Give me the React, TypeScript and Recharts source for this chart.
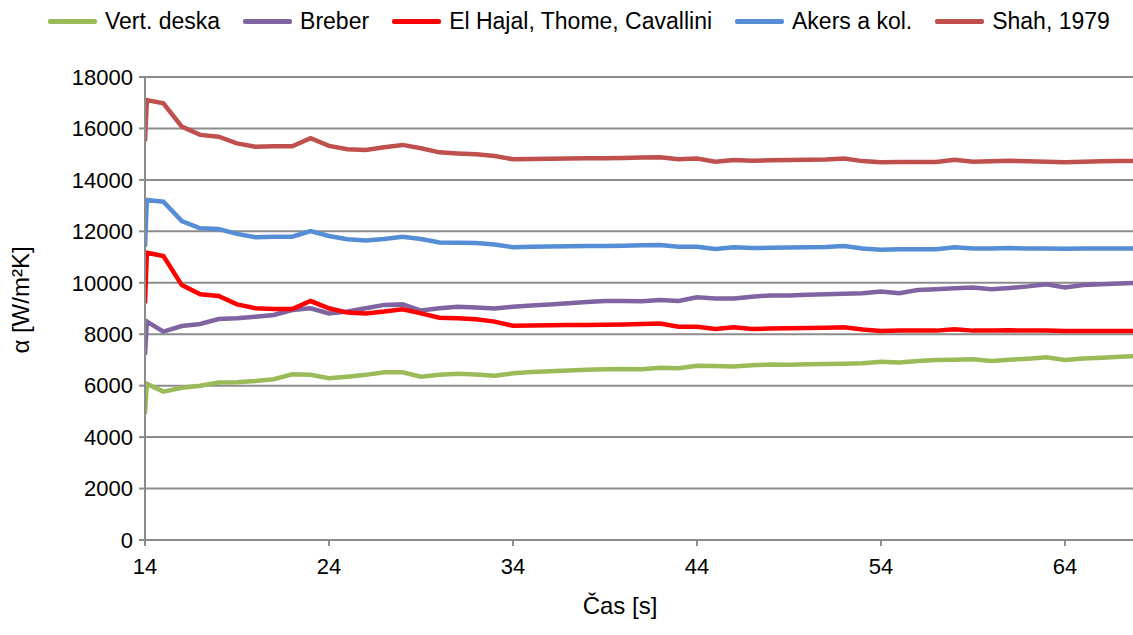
import { LineChart, Line, XAxis, YAxis, CartesianGrid, Label } from "recharts";

const times = [14, 14.1, 15, 16, 17, 18, 19, 20, 21, 22, 23, 24, 25, 26, 27, 28, 29, 30, 31, 32, 33, 34, 35, 36, 37, 38, 39, 40, 41, 42, 43, 44, 45, 46, 47, 48, 49, 50, 51, 52, 53, 54, 55, 56, 57, 58, 59, 60, 61, 62, 63, 64, 65, 66, 67, 68];

const vertDeska = [4900, 6070, 5770, 5920, 6000, 6120, 6130, 6180, 6250, 6440, 6420, 6290, 6350, 6420, 6520, 6520, 6350, 6420, 6460, 6430, 6390, 6480, 6530, 6560, 6590, 6620, 6640, 6650, 6640, 6700, 6680, 6770, 6760, 6750, 6790, 6820, 6810, 6830, 6840, 6850, 6870, 6930, 6900, 6960, 7000, 7010, 7030, 6960, 7010, 7050, 7100, 7000, 7060, 7090, 7120, 7150];
const breber = [7200, 8490, 8100, 8320, 8400, 8590, 8620, 8680, 8750, 8940, 9010, 8810, 8880, 9010, 9140, 9160, 8920, 9010, 9070, 9040, 9000, 9070, 9120, 9160, 9200, 9250, 9290, 9290, 9280, 9330, 9290, 9440, 9390, 9390, 9460, 9510, 9510, 9530, 9550, 9570, 9590, 9660, 9590, 9720, 9750, 9790, 9820, 9750, 9800, 9860, 9940, 9820, 9910, 9940, 9970, 10000];
const elHajal = [9200, 11170, 11040, 9910, 9550, 9490, 9160, 9010, 8980, 8980, 9290, 9010, 8840, 8810, 8880, 8970, 8810, 8640, 8620, 8580, 8490, 8330, 8340, 8350, 8360, 8360, 8370, 8380, 8400, 8420, 8290, 8290, 8200, 8270, 8200, 8220, 8230, 8240, 8250, 8270, 8180, 8130, 8140, 8140, 8140, 8190, 8140, 8140, 8150, 8140, 8140, 8130, 8130, 8130, 8130, 8130];
const akers = [11400, 13220, 13150, 12400, 12120, 12090, 11900, 11770, 11790, 11790, 12010, 11820, 11690, 11640, 11700, 11790, 11700, 11570, 11560, 11550, 11490, 11380, 11400, 11410, 11420, 11430, 11430, 11440, 11460, 11470, 11400, 11400, 11310, 11380, 11350, 11360, 11370, 11380, 11390, 11430, 11330, 11280, 11300, 11300, 11300, 11380, 11330, 11330, 11350, 11330, 11330, 11320, 11330, 11330, 11330, 11330];
const shah = [15500, 17100, 16980, 16070, 15750, 15680, 15420, 15290, 15310, 15310, 15620, 15320, 15190, 15160, 15270, 15360, 15230, 15070, 15030, 15000, 14930, 14800, 14810, 14820, 14830, 14840, 14840, 14850, 14870, 14880, 14800, 14830, 14710, 14770, 14740, 14760, 14770, 14780, 14790, 14830, 14730, 14690, 14700, 14700, 14700, 14780, 14710, 14720, 14740, 14720, 14710, 14690, 14710, 14720, 14730, 14730];

const xTicks = [14, 24, 34, 44, 54, 64];
const yTicks = [0, 2000, 4000, 6000, 8000, 10000, 12000, 14000, 16000, 18000];

const series = [
  { key: "vert", name: "Vert. deska", color: "#9BBB59" },
  { key: "breber", name: "Breber", color: "#8064A2" },
  { key: "hajal", name: "El Hajal, Thome, Cavallini", color: "#FF0000" },
  { key: "akers", name: "Akers a kol.", color: "#558ED5" },
  { key: "shah", name: "Shah, 1979", color: "#C0504D" },
];

const data = times.map((t, i) => ({
  t,
  vert: vertDeska[i],
  breber: breber[i],
  hajal: elHajal[i],
  akers: akers[i],
  shah: shah[i],
}));

const font = "'Liberation Sans', Arial, sans-serif";
const gridColor = "#8C8C8C";

export default function App() {
  return (
    <div style={{ position: "absolute", left: 0, top: 0, width: 1133, height: 635, background: "#fff", fontFamily: font, overflow: "hidden" }}>
      {/* legend row */}
      <div style={{ position: "absolute", top: 8, left: 48, display: "flex", alignItems: "center", fontSize: 23, color: "#000", whiteSpace: "nowrap" }}>
        {series.map((s) => (
          <span key={s.key} style={{ display: "flex", alignItems: "center", marginRight: 23 }}>
            <span style={{ display: "inline-block", width: 49, height: 5, background: s.color, borderRadius: 2, marginRight: 8 }} />
            {s.name}
          </span>
        ))}
      </div>
      <LineChart width={1133} height={635} data={data} margin={{ top: 77, right: 0, bottom: 0, left: 0 }}>
        <CartesianGrid horizontal vertical={false} stroke={gridColor} strokeWidth={2} />
        <XAxis
          dataKey="t"
          type="number"
          domain={[14, 67.7]}
          ticks={xTicks}
          allowDataOverflow
          height={95}
          tickSize={6}
          tickMargin={12}
          stroke={gridColor}
          strokeWidth={2}
          tick={{ fontSize: 22, fill: "#000", fontFamily: font }}
        >
          <Label
            content={() => (
              <text x={620} y={614} textAnchor="middle" fontSize={24} fill="#000" fontFamily={font}>
                Čas [s]
              </text>
            )}
          />
        </XAxis>
        <YAxis
          type="number"
          domain={[0, 18000]}
          ticks={yTicks}
          width={145}
          tickSize={6}
          tickMargin={6}
          stroke={gridColor}
          strokeWidth={2}
          tick={{ fontSize: 22, fill: "#000", fontFamily: font }}
        >
          <Label
            content={() => (
              <text x={29} y={300} transform="rotate(-90 29 300)" textAnchor="middle" fontSize={24} fill="#000" fontFamily={font}>
                α [W/m²K]
              </text>
            )}
          />
        </YAxis>
        {series.map((s) => (
          <Line
            key={s.key}
            dataKey={s.key}
            name={s.name}
            type="linear"
            stroke={s.color}
            strokeWidth={4.5}
            dot={false}
            isAnimationActive={false}
          />
        ))}
      </LineChart>
    </div>
  );
}
